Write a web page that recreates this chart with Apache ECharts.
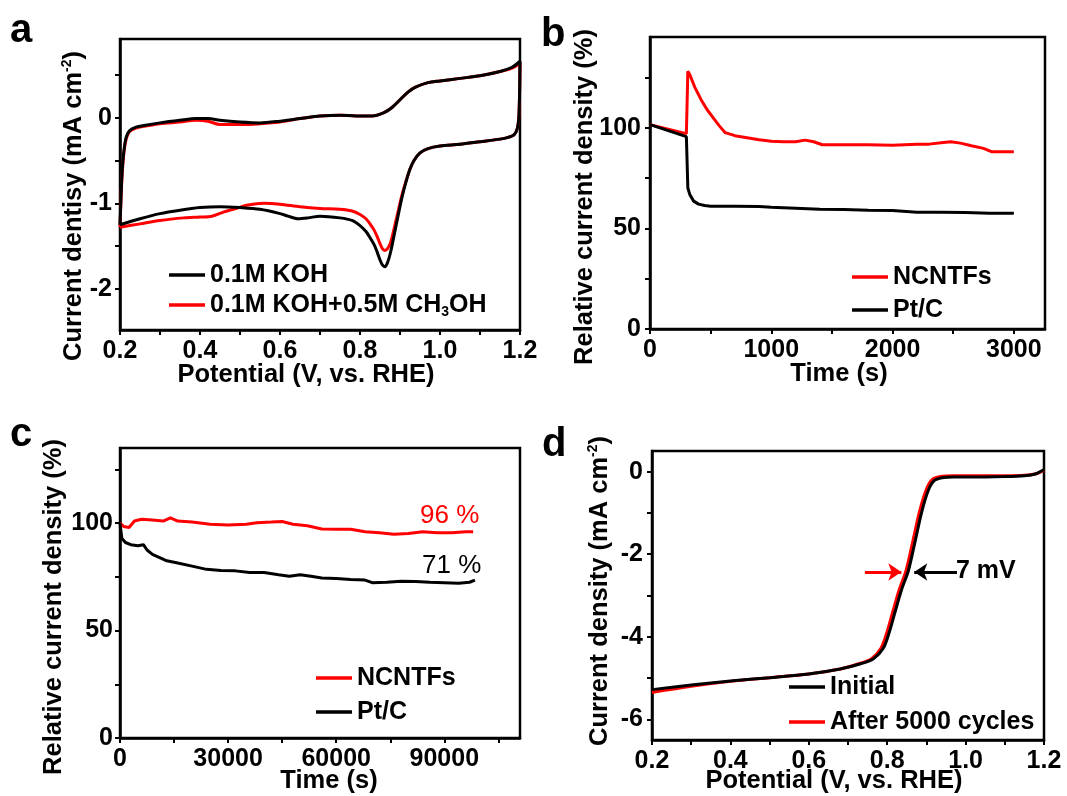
<!DOCTYPE html>
<html><head><meta charset="utf-8">
<script src="https://cdn.jsdelivr.net/npm/echarts@6.0.0/dist/echarts.min.js"></script>
<style>html,body{margin:0;padding:0;background:#fff}#chart{width:1067px;height:796px}</style>
</head><body><div id="chart"></div>
<script>
// ---------- Panel a: CV curves ----------
const aNames = ['0.1M KOH', '0.1M KOH+0.5M CH3OH'];
const aKOH = [
[0.2,-1.25],[0.202,-1.0],[0.204,-0.75],[0.207,-0.52],[0.211,-0.34],[0.216,-0.22],[0.224,-0.15],[0.24,-0.11],[0.26,-0.09],[0.3,-0.06],[0.35,-0.03],[0.39,-0.01],[0.42,-0.01],[0.45,-0.03],[0.5,-0.05],[0.55,-0.06],[0.6,-0.04],[0.65,-0.01],[0.7,0.02],[0.75,0.03],[0.79,0.02],[0.83,0.02],[0.86,0.06],[0.88,0.12],[0.9,0.21],[0.92,0.3],[0.94,0.36],[0.97,0.41],[1.0,0.43],[1.05,0.46],[1.1,0.49],[1.15,0.54],[1.18,0.59],[1.2,0.66],
[1.199,0.3],[1.197,0.0],[1.193,-0.13],[1.185,-0.2],[1.17,-0.23],[1.15,-0.25],[1.1,-0.28],[1.05,-0.31],[1.0,-0.33],[0.97,-0.36],[0.95,-0.41],[0.935,-0.5],[0.925,-0.6],[0.915,-0.75],[0.905,-0.93],[0.895,-1.15],[0.885,-1.38],[0.877,-1.56],[0.869,-1.69],[0.862,-1.74],[0.856,-1.72],[0.85,-1.66],[0.843,-1.57],[0.835,-1.48],[0.825,-1.4],[0.815,-1.33],[0.8,-1.26],[0.78,-1.2],[0.75,-1.17],[0.7,-1.15],[0.67,-1.17],[0.645,-1.18],[0.62,-1.15],[0.6,-1.12],[0.55,-1.07],[0.5,-1.05],[0.45,-1.04],[0.4,-1.05],[0.35,-1.08],[0.3,-1.12],[0.25,-1.18],[0.2,-1.25]
];
const aKOHMeOH = [
[0.2,-1.28],[0.202,-1.02],[0.204,-0.78],[0.207,-0.55],[0.211,-0.36],[0.216,-0.24],[0.224,-0.16],[0.24,-0.12],[0.26,-0.1],[0.3,-0.07],[0.35,-0.05],[0.39,-0.03],[0.42,-0.04],[0.45,-0.08],[0.5,-0.08],[0.55,-0.07],[0.6,-0.05],[0.65,-0.01],[0.7,0.02],[0.75,0.03],[0.79,0.02],[0.83,0.02],[0.86,0.06],[0.88,0.12],[0.9,0.21],[0.92,0.3],[0.94,0.36],[0.97,0.41],[1.0,0.43],[1.05,0.46],[1.1,0.49],[1.15,0.54],[1.18,0.58],[1.2,0.64],
[1.199,0.3],[1.197,0.0],[1.193,-0.13],[1.185,-0.2],[1.17,-0.23],[1.15,-0.25],[1.1,-0.28],[1.05,-0.31],[1.0,-0.33],[0.97,-0.36],[0.95,-0.41],[0.935,-0.5],[0.925,-0.6],[0.915,-0.74],[0.905,-0.9],[0.895,-1.1],[0.885,-1.3],[0.877,-1.45],[0.869,-1.53],[0.862,-1.55],[0.856,-1.53],[0.85,-1.47],[0.843,-1.39],[0.835,-1.31],[0.825,-1.24],[0.815,-1.18],[0.8,-1.13],[0.78,-1.09],[0.75,-1.07],[0.7,-1.06],[0.65,-1.04],[0.6,-1.01],[0.56,-1.0],[0.52,-1.02],[0.49,-1.06],[0.46,-1.1],[0.43,-1.15],[0.4,-1.16],[0.36,-1.17],[0.3,-1.2],[0.25,-1.24],[0.2,-1.28]
];

// ---------- Panel b: short chronoamperometry (methanol) ----------
const stabNames = ['NCNTFs', 'Pt/C'];
const bNCNTFs = [[0,101.5],[100,100],[200,98.5],[300,97],[306,97],[312,128],[330,126],[370,120],[420,114],[470,109],[520,105],[570,101],[620,97.5],[700,96],[800,95],[900,94],[1000,93.2],[1100,93],[1200,93],[1280,93.8],[1350,93],[1420,91.5],[1600,91.5],[1800,91.5],[2000,91.3],[2200,91.8],[2300,91.8],[2400,92.5],[2480,93],[2560,92.3],[2650,91],[2750,89.7],[2820,88],[2900,88],[3000,88]];
const bPtC = [[0,101.5],[100,99.5],[200,97.5],[300,95.5],[308,95],[312,70],[330,66.5],[360,63.5],[400,62],[450,61.3],[500,61],[700,61],[900,60.8],[1000,60.5],[1200,60],[1400,59.5],[1600,59.3],[1800,59],[2000,58.8],[2200,58],[2400,58],[2600,57.8],[2800,57.5],[3000,57.5]];

// ---------- Panel c: long-term stability ----------
const cNCNTFs = [[0,100],[1000,98.5],[2500,98],[4000,101],[6000,101.8],[9000,101.5],[12000,101],[14000,102.5],[16000,101],[20000,100.5],[25000,99.5],[30000,99.2],[35000,99.5],[38000,100.2],[42000,100.5],[45000,100.8],[48000,99.5],[52000,98.8],[56000,97.3],[60000,97.2],[64000,97.2],[68000,96],[72000,95.5],[76000,94.8],[80000,95.2],[84000,96],[88000,95.5],[92000,95.5],[96000,96],[98000,96]];
const cPtC = [[0,100],[500,93],[1500,91],[3000,90],[5000,89.5],[6500,90],[7500,87.5],[9000,85.5],[11000,84],[13000,82.5],[16000,81.5],[20000,80],[24000,78.5],[28000,78],[32000,77.8],[36000,77],[40000,77],[44000,76],[47000,75.3],[50000,76],[53000,75.3],[56000,74.5],[60000,74.2],[64000,73.8],[68000,73.5],[70000,72.3],[74000,72.5],[78000,73],[82000,72.8],[86000,72.5],[90000,72.3],[94000,72],[97000,72.5],[98500,73.5]];
const cNotes = ['96 %', '71 %'];

// ---------- Panel d: LSV before/after cycling ----------
const dNames = ['Initial', 'After 5000 cycles'];
const dInitial = [[0.2,-5.28],[0.3,-5.17],[0.4,-5.07],[0.5,-4.99],[0.6,-4.9],[0.68,-4.78],[0.73,-4.66],[0.765,-4.53],[0.79,-4.28],[0.805,-3.9],[0.82,-3.4],[0.837,-2.85],[0.854,-2.4],[0.871,-1.7],[0.888,-0.98],[0.905,-0.45],[0.92,-0.22],[0.94,-0.15],[0.97,-0.13],[1.0,-0.13],[1.1,-0.12],[1.15,-0.1],[1.18,-0.05],[1.2,0.05]];
const dAfter = [[0.2,-5.35],[0.3,-5.2],[0.4,-5.08],[0.5,-4.99],[0.6,-4.9],[0.68,-4.78],[0.725,-4.66],[0.76,-4.53],[0.784,-4.28],[0.799,-3.9],[0.814,-3.4],[0.831,-2.85],[0.848,-2.4],[0.865,-1.7],[0.882,-0.98],[0.899,-0.45],[0.914,-0.2],[0.935,-0.12],[0.97,-0.1],[1.0,-0.1],[1.1,-0.1],[1.15,-0.09],[1.18,-0.05],[1.2,0.03]];
const dShiftLabel = '7 mV';
const dArrowRed = [[0.743,-2.43],[0.836,-2.43]];
const dArrowBlack = [[0.978,-2.43],[0.869,-2.43]];

// ---------- Tick values ----------
const potTicks = [0.2,0.3,0.4,0.5,0.6,0.7,0.8,0.9,1.0,1.1,1.2];
const potLabels = [0.2,0.4,0.6,0.8,1.0,1.2];
const aYTicks = [-2,-1.5,-1,-0.5,0,0.5];
const aYLabels = [-2,-1,0];
const bXTicks = [0,500,1000,1500,2000,2500,3000];
const bXLabels = [0,1000,2000,3000];
const relTicks = [0,25,50,75,100,125];
const relLabels = [0,50,100];
const cXTicks = [0,15000,30000,45000,60000,75000,90000,105000];
const cXLabels = [0,30000,60000,90000];
const dYTicks = [-6,-5,-4,-3,-2,-1,0];
const dYLabels = [-6,-4,-2,0];

const FONT = '"Liberation Sans", Arial, Helvetica, sans-serif';
const RED = '#ff0000', BLACK = '#000000';
const TICK_FS = 25, TITLE_FS = 25.5, LEG_FS = 25;

function axis(gi, min, max, ticks, labels, fmt, margin) {
  return {
    type: 'value', gridIndex: gi, min: min, max: max,
    axisLine: {show: true, onZero: false, lineStyle: {color: '#000', width: 2.5}},
    axisTick: {show: true, inside: false, length: 5, lineStyle: {color: '#000', width: 2}, customValues: ticks},
    axisLabel: {show: true, customValues: labels, formatter: fmt, margin: margin, color: '#000',
      fontSize: TICK_FS, fontWeight: 'bold', fontFamily: FONT},
    splitLine: {show: false}
  };
}
const f1 = v => Number(v).toFixed(1);
const f0 = v => String(Math.round(v));

function lineSeries(name, data, color, xi, z, smooth) {
  return {
    type: 'line', name: name, data: data, xAxisIndex: xi, yAxisIndex: xi,
    showSymbol: false, symbol: 'none', smooth: smooth || false, z: z,
    lineStyle: {color: color, width: 3}, itemStyle: {color: color},
    emphasis: {disabled: true}
  };
}

function legend(names, left, top, gap) {
  return {
    data: names, orient: 'vertical', left: left, top: top, padding: 0, itemGap: gap,
    itemWidth: 36, itemHeight: 3.5, icon: 'rect', selectedMode: false,
    formatter: n => n.replace('CH3OH', 'CH{sub|3}OH'),
    textStyle: {fontSize: LEG_FS, fontWeight: 'bold', fontFamily: FONT, color: '#000', lineHeight: 28,
      rich: {sub: {fontSize: 14, fontWeight: 'bold', fontFamily: FONT, color: '#000', verticalAlign: 'bottom', lineHeight: 14}}}
  };
}

function txt(x, y, text, o) {
  o = o || {};
  return {
    type: 'text', x: x, y: y, rotation: o.rot || 0, silent: true,
    style: {
      text: text, fill: o.color || '#000', fontSize: o.size || TITLE_FS, fontWeight: o.weight || 'bold', fontFamily: FONT,
      align: o.align || 'center', verticalAlign: 'middle', textAlign: o.align || 'center', textVerticalAlign: 'middle',
      lineHeight: 27,
      rich: {sup: {fontSize: 14, fontWeight: 'bold', fontFamily: FONT, fill: '#000', verticalAlign: 'top', lineHeight: 14}}
    }
  };
}

const chart = echarts.init(document.getElementById('chart'), null, {renderer: 'canvas'});
const gridStyle = {show: true, borderColor: '#000', borderWidth: 2.5, backgroundColor: 'transparent', containLabel: false};

const redArrowSeries = lineSeries(dNames[1], dAfter, RED, 3, 2, 0.3);
redArrowSeries.markLine = {
  silent: true, symbol: ['none', 'arrow'], symbolSize: [13, 13], animation: false,
  label: {show: false},
  data: [
    [{coord: dArrowRed[0], lineStyle: {color: RED, width: 3, type: 'solid'}, itemStyle: {color: RED}}, {coord: dArrowRed[1]}],
    [{coord: dArrowBlack[0], lineStyle: {color: BLACK, width: 3, type: 'solid'}, itemStyle: {color: BLACK}}, {coord: dArrowBlack[1]}]
  ]
};

chart.setOption({
  animation: false,
  backgroundColor: '#fff',
  grid: [
    Object.assign({left: 120, top: 39, width: 400, height: 291}, gridStyle),
    Object.assign({left: 650, top: 37, width: 395, height: 292}, gridStyle),
    Object.assign({left: 120, top: 448, width: 400, height: 290}, gridStyle),
    Object.assign({left: 652, top: 451, width: 392, height: 289}, gridStyle)
  ],
  xAxis: [
    axis(0, 0.2, 1.2, potTicks, potLabels, f1, 9),
    axis(1, 0, 3257, bXTicks, bXLabels, f0, 9),
    axis(2, 0, 111000, cXTicks, cXLabels, f0, 9),
    axis(3, 0.2, 1.2, potTicks, potLabels, f1, 9)
  ],
  yAxis: [
    axis(0, -2.48, 0.92, aYTicks, aYLabels, f0, 8),
    axis(1, 0, 145, relTicks, relLabels, f0, 9),
    axis(2, 0, 135, relTicks, relLabels, f0, 7),
    axis(3, -6.5, 0.5, dYTicks, dYLabels, f0, 9)
  ],
  legend: [
    legend(aNames, 169, 261, 2),
    legend(stabNames, 852, 263, 5),
    legend(stabNames, 316, 664, 6),
    legend(dNames, 789, 673, 7)
  ],
  series: [
    lineSeries(aNames[0], aKOH, BLACK, 0, 3, 0.3),
    lineSeries(aNames[1], aKOHMeOH, RED, 0, 2, 0.3),
    lineSeries(stabNames[0], bNCNTFs, RED, 1, 2),
    lineSeries(stabNames[1], bPtC, BLACK, 1, 3),
    lineSeries(stabNames[0], cNCNTFs, RED, 2, 2),
    lineSeries(stabNames[1], cPtC, BLACK, 2, 3),
    lineSeries(dNames[0], dInitial, BLACK, 3, 3, 0.3),
    redArrowSeries
  ],
  graphic: [
    txt(10, 31, 'a', {size: 40, align: 'left'}),
    txt(541, 35, 'b', {size: 40, align: 'left'}),
    txt(10, 435, 'c', {size: 40, align: 'left'}),
    txt(542, 445, 'd', {size: 40, align: 'left'}),
    txt(74, 206, 'Current dentisy (mA cm{sup|-2})', {rot: Math.PI / 2}),
    txt(306, 375, 'Potential (V, vs. RHE)'),
    txt(585, 197, 'Relative current density (%)', {rot: Math.PI / 2}),
    txt(839, 374, 'Time (s)'),
    txt(54, 607, 'Relative current density (%)', {rot: Math.PI / 2}),
    txt(329, 781, 'Time (s)'),
    txt(600, 591, 'Current density (mA cm{sup|-2})', {rot: Math.PI / 2}),
    txt(834, 781, 'Potential (V, vs. RHE)'),
    txt(420, 516, cNotes[0], {align: 'left', color: RED, weight: 'normal', size: 26}),
    txt(422, 566, cNotes[1], {align: 'left', color: BLACK, weight: 'normal', size: 26}),
    txt(956, 571, dShiftLabel, {align: 'left', size: 25})
  ]
});
</script></body></html>
